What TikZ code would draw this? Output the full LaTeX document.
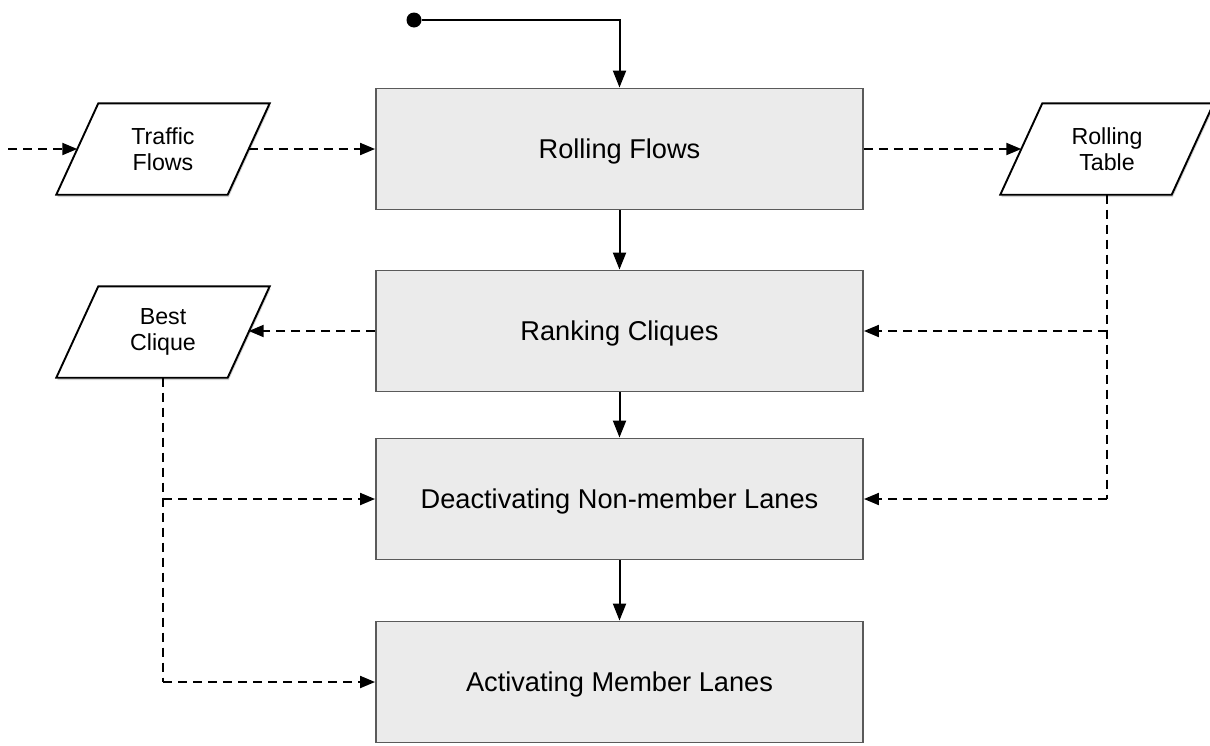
\documentclass[tikz,border=0pt]{standalone}
\usepackage{fontspec}
\setmainfont{Liberation Sans}
\usetikzlibrary{arrows.meta,shadows,backgrounds}
\definecolor{boxfill}{HTML}{EBEBEB}
\definecolor{boxline}{HTML}{5A5A5A}
\tikzset{
  process/.style={rectangle, draw=boxline, fill=boxfill, line width=1.9pt,
    minimum width=487pt, minimum height=121pt, inner sep=0pt,
    text height=19.5pt, text depth=0pt,
    font=\fontsize{27.2}{31}\selectfont},
  iobox/.style={rectangle, minimum width=171pt, minimum height=91pt, inner sep=0pt,
    align=center, font=\fontsize{23.2}{26.5}\selectfont},
  ioshape/.style={draw=black, fill=white, line width=1.9pt, line join=miter,
    drop shadow={opacity=0.35, shadow xshift=1pt, shadow yshift=-2.5pt}},
  flow/.style={line width=2pt, -{Triangle[length=17pt,width=13pt]}},
  data/.style={line width=2pt, dash pattern=on 9pt off 6pt, -{Triangle[length=15pt,width=12pt]}},
  dataline/.style={line width=2pt, dash pattern=on 9pt off 6pt},
}
\newcommand{\ioframe}[1]{%
  \draw[ioshape] ([xshift=-21pt]#1.south west) -- ([xshift=-21pt]#1.south east)
    -- ([xshift=21pt]#1.north east) -- ([xshift=21pt]#1.north west) -- cycle;}
\begin{document}
\begin{tikzpicture}[x=1pt,y=-1pt]
  \useasboundingbox (0,0) rectangle (1210,745);

  % process steps
  \node[process] (rf) at (619.5,149) {Rolling Flows};
  \node[process] (rc) at (619.5,331) {Ranking Cliques};
  \node[process] (dn) at (619.5,499) {Deactivating Non-member Lanes};
  \node[process] (am) at (619.5,682) {Activating Member Lanes};

  % data items
  \node[iobox] (tf) at (163,149) {Traffic\\Flows};
  \node[iobox] (rt) at (1107,149) {Rolling\\Table};
  \node[iobox] (bc) at (163,332) {Best\\Clique};
  \begin{scope}[on background layer]
    \ioframe{tf}
    \ioframe{rt}
    \ioframe{bc}
  \end{scope}

  % start marker
  \node[circle, fill=black, inner sep=0pt, minimum size=15pt] (start) at (414,20) {};
  \coordinate (in) at (8,149);

  % control flow
  \draw[flow] (start) -| (rf.north);
  \draw[flow] (rf) -- (rc);
  \draw[flow] (rc) -- (dn);
  \draw[flow] (dn) -- (am);

  % data flow
  \draw[data] (in) -- (tf.west);
  \draw[data] (tf.east) -- (rf.west);
  \draw[data] (rf.east) -- (rt.west);
  \draw[data] (rc.west) -- (rc.west -| bc.east);
  \draw[dataline] (rt.south) -- (rt.south |- dn.east);
  \draw[data] (rt.south |- rc.east) -- (rc.east);
  \draw[data] (rt.south |- dn.east) -- (dn.east);
  \draw[dataline] (bc.south) -- (bc.south |- am.west);
  \draw[data] (bc.south |- dn.west) -- (dn.west);
  \draw[data] (bc.south |- am.west) -- (am.west);
\end{tikzpicture}
\end{document}
